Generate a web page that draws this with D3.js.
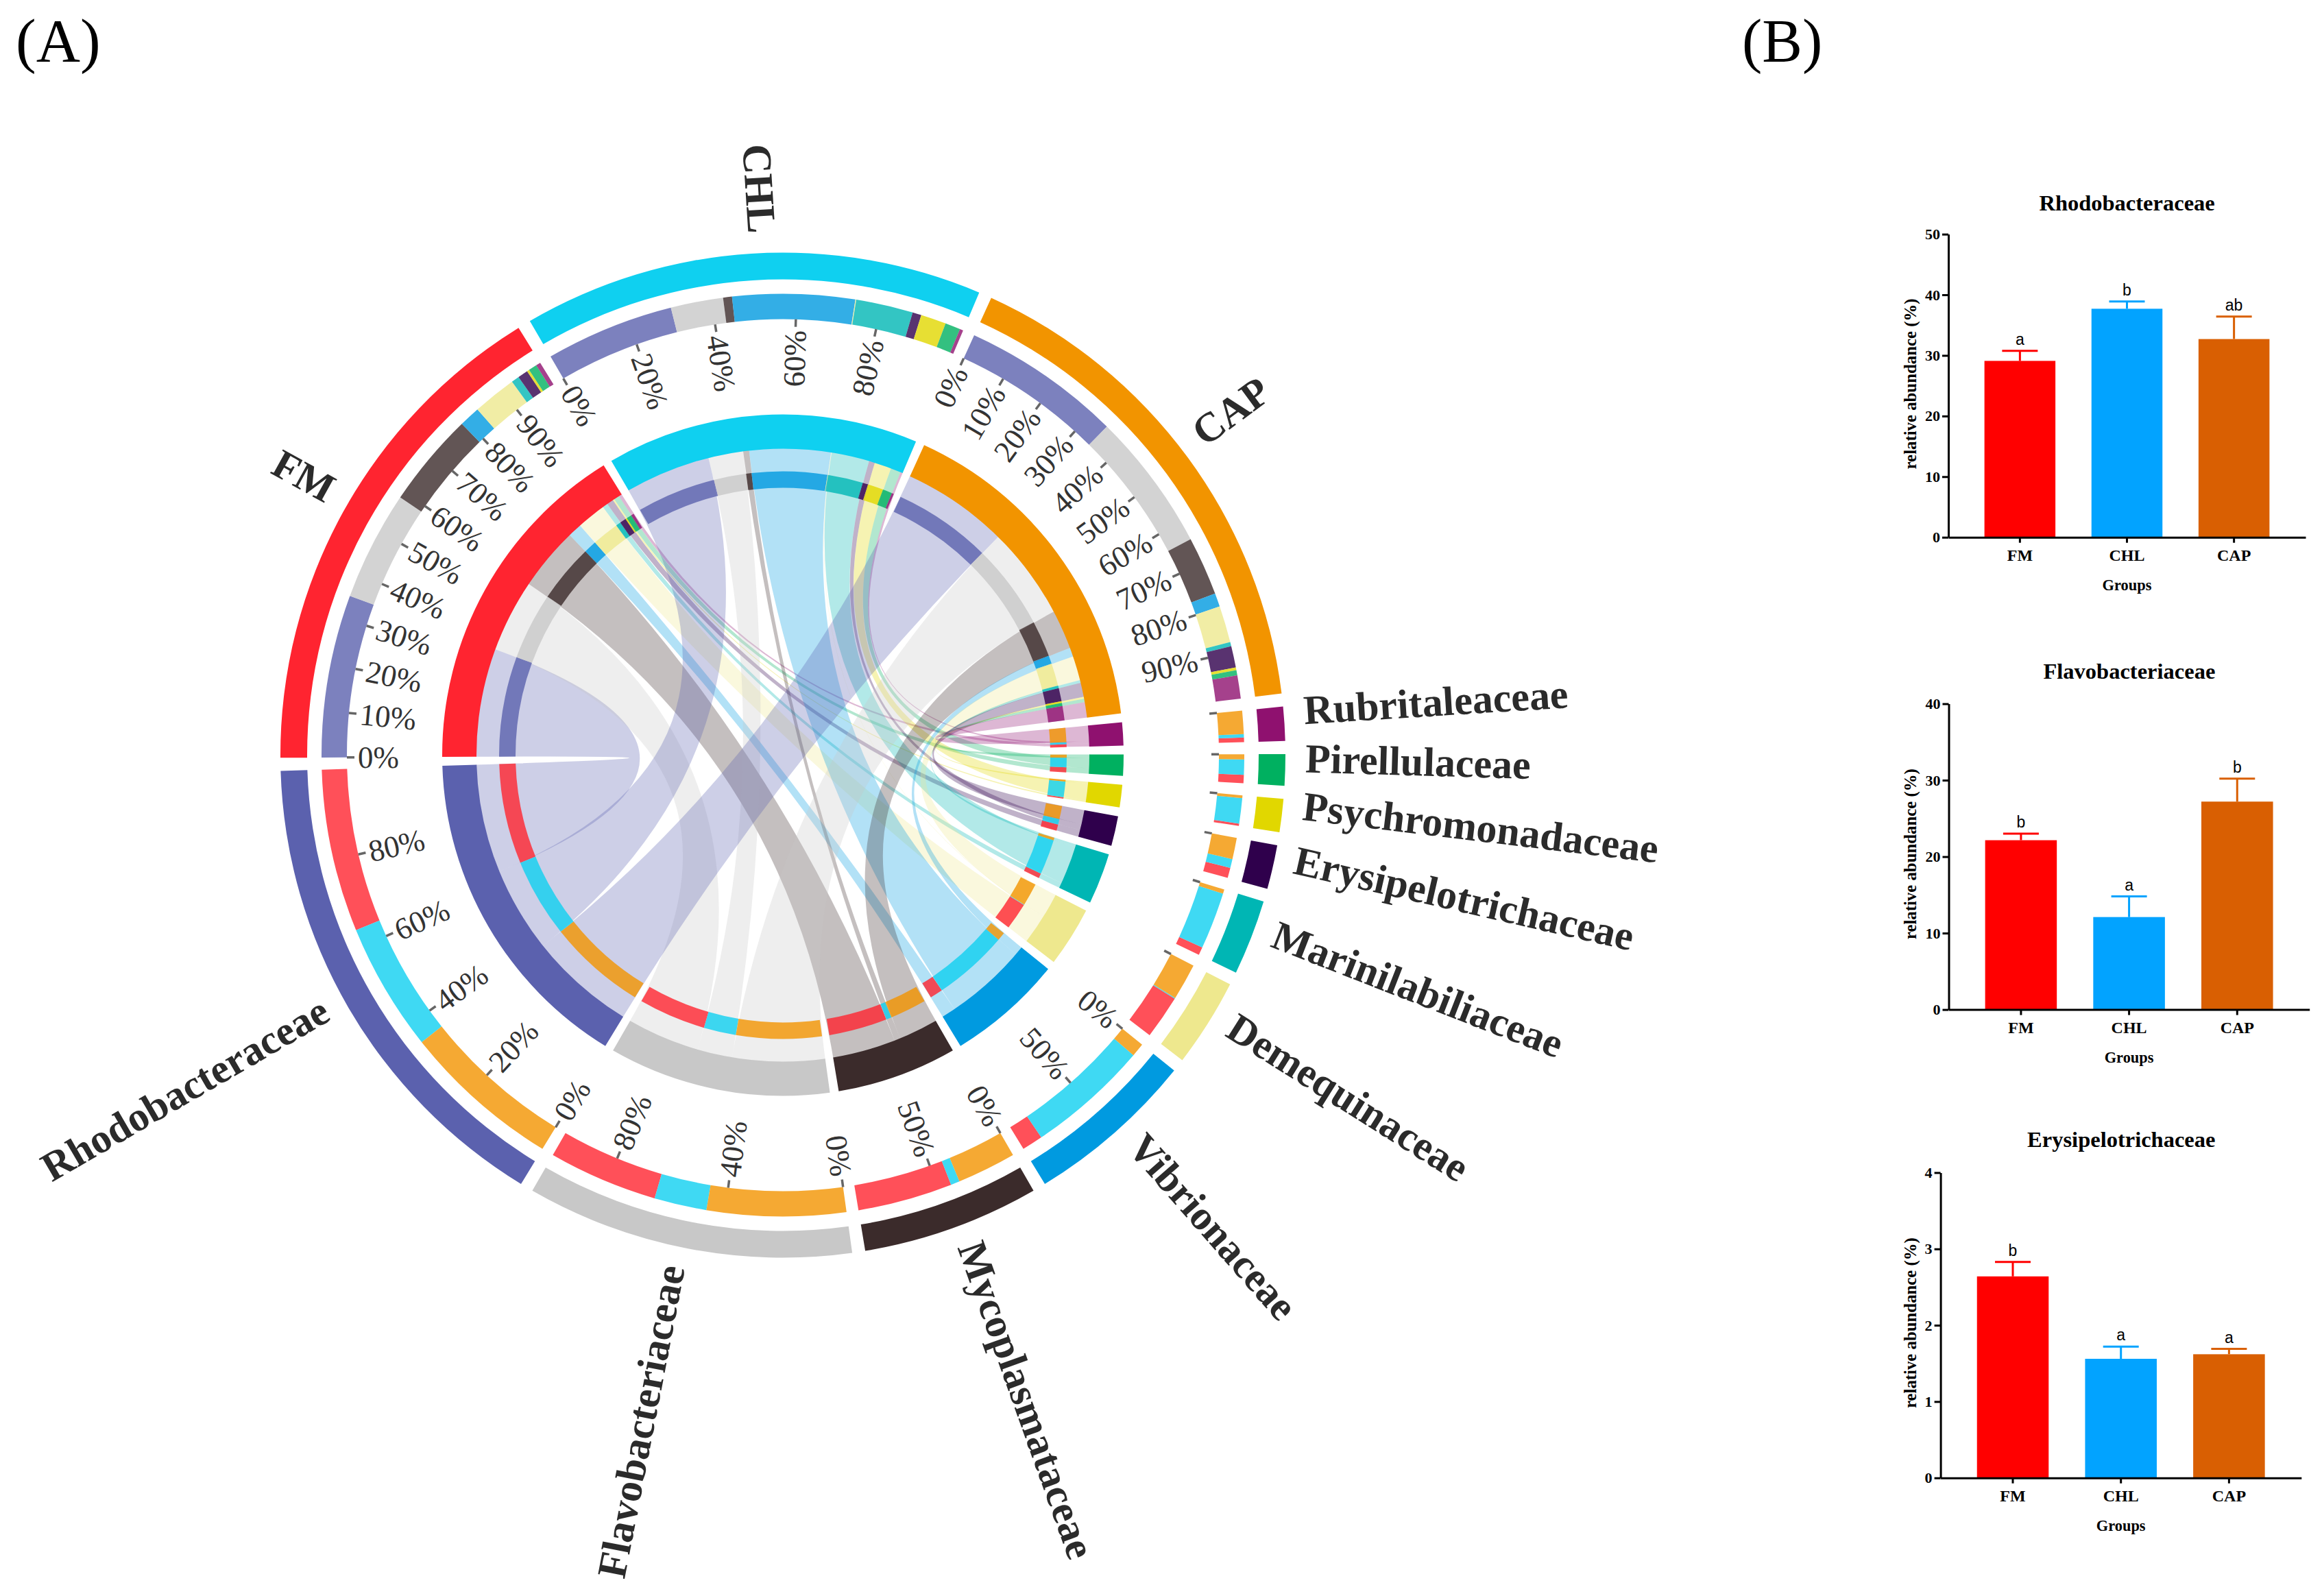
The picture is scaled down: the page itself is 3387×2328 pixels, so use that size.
<!DOCTYPE html>
<html><head><meta charset="utf-8">
<script src="https://cdn.jsdelivr.net/npm/d3@7/dist/d3.min.js"></script>
<style>html,body{margin:0;padding:0;background:#fff}svg{display:block}</style>
</head><body><svg id="c" width="3387" height="2328"></svg>
<script>
const groups = ["FM","CHL","CAP"];
const groupColors = ["#ff2430","#0fd0f0","#f29400"];
const groupSize = [58.3,53,58.2];
const families = ["Rhodobacteraceae","Flavobacteriaceae","Mycoplasmataceae","Vibrionaceae","Demequinaceae","Marinilabiliaceae","Erysipelotrichaceae","Psychromonadaceae","Pirellulaceae","Rubritaleaceae"];
const familyColors = ["#5b61ae","#c8c8c8","#3b2b2b","#009ae0","#eee88e","#00b6b4","#2f004c","#e1d700","#00b060","#8f116f"];
const fmShare  = [35,23.5,20.4,4.5,9.4,1.7,2.2,0.5,1.8,1.0];
const chlShare = [30.4,12.4,2.1,28.9,0.2,13.5,2.1,6,3.6,0.8];
const capShare = [34.4,29.9,12.7,2.9,7.9,0.9,4.6,0.6,1.1,5.0];
const groupTicks = [[0,10,20,30,40,50,60,70,80,90],[0,20,40,60,80],[0,10,20,30,40,50,60,70,80,90]];
const familyTicks = [[0,20,40,60,80],[0,40,80],[0,50],[0,50],[0],[0],[0],[0],[0],[0]];
const unlabelled = ["Demequinaceae","Marinilabiliaceae","Erysipelotrichaceae","Psychromonadaceae","Pirellulaceae","Rubritaleaceae"];

const barGroups = ["FM","CHL","CAP"];
const barColors = ["#ff0000","#02a3ff","#d95f02"];
const rhodoMean = [29.1,37.7,32.7], rhodoUpper = [30.75,38.9,36.4], rhodoSig = ["a","b","ab"];
const flavoMean = [22.15,12.1,27.2], flavoUpper = [23,14.8,30.2], flavoSig = ["b","a","b"];
const erysiMean = [2.64,1.56,1.62], erysiUpper = [2.83,1.72,1.69], erysiSig = ["b","a","a"];

const svg = d3.select("#c");
const SERIF = "'Liberation Serif','Times New Roman',serif";
const SANS = "'Liberation Sans',Arial,sans-serif";
const rad = d => d*Math.PI/180, deg = a => a*180/Math.PI;

svg.append("text").attr("x",23).attr("y",89).attr("font-family",SERIF).attr("font-size",89).text("(A)");
svg.append("text").attr("x",2541).attr("y",89).attr("font-family",SERIF).attr("font-size",88).text("(B)");

// ---------- chord layout ----------
const shares = [fmShare,chlShare,capShare];
const flows = groups.map((g,i)=>families.map((f,j)=>shares[i][j]/100*groupSize[i]));
const famTotals = families.map((f,j)=>d3.sum(flows,r=>r[j]));
const grpTotals = flows.map(r=>d3.sum(r));
const total = d3.sum(grpTotals)+d3.sum(famTotals);
const pad = rad(1.5);
const sweep = d3.scaleLinear().domain([0,total]).range([0,2*Math.PI-13*pad]);
const start = rad(269.7);

let cursor = start;
const grpArcs = groups.map((g,i)=>{
  const s={name:g,i,startAngle:cursor,endAngle:cursor+sweep(grpTotals[i])};
  cursor=s.endAngle+pad; return s;
});
const famOrder = d3.range(families.length).reverse();
const famArcs = [];
famOrder.forEach(j=>{
  const s={name:families[j],j,startAngle:cursor,endAngle:cursor+sweep(famTotals[j])};
  cursor=s.endAngle+pad; famArcs[j]=s;
});
const chords=[];
grpArcs.forEach(G=>{
  let a=G.startAngle;
  families.forEach((f,j)=>{
    const w=sweep(flows[G.i][j]);
    chords.push({i:G.i,j,source:{startAngle:a,endAngle:a+w}});
    a+=w;
  });
});
famArcs.forEach(F=>{
  let a=F.startAngle;
  [2,1,0].forEach(i=>{
    const w=sweep(flows[i][F.j]);
    const c=chords.find(k=>k.i===i&&k.j===F.j);
    c.target={startAngle:a,endAngle:a+w};
    a+=w;
  });
});

const cx=1142, cy=1101.5;
const R = {outerO:733,outerI:694,secondO:673,secondI:636,mainO:497,mainI:447,smallO:414,smallI:390,tick:625,tickLabel:620,name:762};
const P = svg.append("g").attr("transform",`translate(${cx},${cy})`);
const arc=d3.arc();
const ribbon=d3.ribbon().radius(R.mainI+1);
P.append("g").selectAll("path").data(chords).join("path")
  .attr("d",d=>ribbon(d)).attr("fill",d=>familyColors[d.j]).attr("fill-opacity",0.3);

const ring=(sel,data,ri,ro,color,op)=>sel.append("g").selectAll("path").data(data).join("path")
  .attr("d",d=>arc({innerRadius:ri,outerRadius:ro,startAngle:d.startAngle,endAngle:d.endAngle}))
  .attr("fill",color).attr("fill-opacity",op);

ring(P,grpArcs,R.outerI,R.outerO,d=>groupColors[d.i],1);
ring(P,grpArcs,R.mainI,R.mainO,d=>groupColors[d.i],1);
ring(P,famArcs,R.outerI,R.outerO,d=>familyColors[d.j],1);
ring(P,famArcs,R.mainI,R.mainO,d=>familyColors[d.j],1);

const grpSeg=chords.map(c=>({...c.source,color:familyColors[c.j]}));
const famSeg=chords.map(c=>({...c.target,color:groupColors[c.i]}));
[[R.secondI,R.secondO],[R.smallI,R.smallO]].forEach(([ri,ro])=>{
  ring(P,grpSeg,ri,ro,d=>d.color,0.8);
  ring(P,famSeg,ri,ro,d=>d.color,0.8);
});

// ---------- ticks ----------
const tickData=[];
grpArcs.forEach(G=>groupTicks[G.i].forEach(t=>tickData.push({angle:G.startAngle+(G.endAngle-G.startAngle)*t/100,t,label:true})));
famArcs.forEach(F=>familyTicks[F.j].forEach(t=>tickData.push({angle:F.startAngle+(F.endAngle-F.startAngle)*t/100,t,label:!unlabelled.includes(F.name)})));
const norm=a=>{let d=deg(a)%360;return d<0?d+360:d;};
const tg=P.append("g").selectAll("g").data(tickData).join("g");
tg.append("line")
  .attr("transform",d=>`rotate(${norm(d.angle)-90})`)
  .attr("x1",R.tick).attr("x2",R.secondI).attr("stroke","#666").attr("stroke-width",3.5);
tg.filter(d=>d.label).append("text")
  .attr("transform",d=>{const n=norm(d.angle);
    return n<180?`rotate(${n-90}) translate(${R.tickLabel},0)`:`rotate(${n+90}) translate(${-R.tickLabel},0)`;})
  .attr("text-anchor",d=>norm(d.angle)<180?"end":"start")
  .attr("dy","0.34em").attr("font-family",SERIF).attr("font-size",45).attr("fill","#333")
  .text(d=>d.t+"%");

// ---------- names ----------
const names=[...grpArcs,...famArcs];
P.append("g").selectAll("text").data(names).join("text")
  .attr("transform",d=>{const n=norm((d.startAngle+d.endAngle)/2);
    return n<180?`rotate(${n-90}) translate(${R.name},0)`:`rotate(${n+90}) translate(${-R.name},0)`;})
  .attr("text-anchor",d=>norm((d.startAngle+d.endAngle)/2)<180?"start":"end")
  .attr("dy","0.04em").attr("font-family",SERIF).attr("font-weight","bold").attr("font-size",60).attr("fill","#2b2b2b")
  .text(d=>d.name);

// ---------- bar panels ----------
function barPanel(o){
  const g=svg.append("g");
  const x=d3.scaleBand().domain(barGroups).range([o.x0,o.x1]).padding(0.337);
  const y=d3.scaleLinear().domain([0,o.max]).range([o.y0,o.y1]);
  g.selectAll(".bar").data(barGroups).join("rect").attr("class","bar")
    .attr("x",d=>x(d)).attr("width",x.bandwidth())
    .attr("y",(d,i)=>y(o.mean[i])).attr("height",(d,i)=>y(0)-y(o.mean[i]))
    .attr("fill",(d,i)=>barColors[i]);
  const cap=26;
  g.selectAll(".err").data(barGroups).join("path").attr("class","err")
    .attr("d",(d,i)=>{const c=x(d)+x.bandwidth()/2;
      return d3.line()([[c,y(o.mean[i])],[c,y(o.upper[i])]])+d3.line()([[c-cap,y(o.upper[i])],[c+cap,y(o.upper[i])]]);})
    .attr("stroke",(d,i)=>barColors[i]).attr("stroke-width",3).attr("fill","none");
  g.selectAll(".sig").data(barGroups).join("text").attr("class","sig")
    .attr("x",d=>x(d)+x.bandwidth()/2).attr("y",(d,i)=>y(o.upper[i])-9)
    .attr("text-anchor","middle").attr("font-family",SANS).attr("font-size",23).attr("fill","#000")
    .text((d,i)=>o.sig[i]);
  const ax=g.append("g").attr("transform",`translate(${o.x0},0)`)
    .call(d3.axisLeft(y).tickValues(o.ticks).tickSize(9).tickSizeOuter(0).tickPadding(3).tickFormat(d3.format("d")));
  const bx=g.append("g").attr("transform",`translate(0,${o.y0})`)
    .call(d3.axisBottom(x).tickSize(8).tickSizeOuter(0).tickPadding(9));
  [ax,bx].forEach(a=>{a.selectAll("path,line").attr("stroke","#000").attr("stroke-width",3);
    a.selectAll("text").attr("font-family",SERIF).attr("font-weight","bold").attr("fill","#000");});
  ax.selectAll("text").attr("font-size",22);
  bx.selectAll("text").attr("font-size",24);
  g.append("text").attr("x",o.titleX).attr("y",o.titleY).attr("text-anchor","middle").attr("font-family",SERIF)
    .attr("font-weight","bold").attr("font-size",32.5).text(o.title);
  g.append("text").attr("x",x("CHL")+x.bandwidth()/2).attr("y",o.y0+77).attr("text-anchor","middle").attr("font-family",SERIF)
    .attr("font-weight","bold").attr("font-size",22.4).text("Groups");
  g.append("text").attr("transform",`translate(2795,${o.yLabelC}) rotate(-90)`).attr("text-anchor","middle").attr("font-family",SERIF)
    .attr("font-weight","bold").attr("font-size",24.8).text("relative abundance (%)");
}
barPanel({title:"Rhodobacteraceae",titleX:3102.6,titleY:307,x0:2842,x1:3363,y0:783.7,y1:341.6,max:50,ticks:[0,10,20,30,40,50],mean:rhodoMean,upper:rhodoUpper,sig:rhodoSig,yLabelC:560});
barPanel({title:"Flavobacteriaceae",titleX:3105.9,titleY:989.8,x0:2842.5,x1:3368.7,y0:1472.6,y1:1026.5,max:40,ticks:[0,10,20,30,40],mean:flavoMean,upper:flavoUpper,sig:flavoSig,yLabelC:1245.7});
barPanel({title:"Erysipelotrichaceae",titleX:3094.3,titleY:1672.9,x0:2830.6,x1:3356.8,y0:2155.7,y1:1710.4,max:4,ticks:[0,1,2,3,4],mean:erysiMean,upper:erysiUpper,sig:erysiSig,yLabelC:1929.6});
</script></body></html>
